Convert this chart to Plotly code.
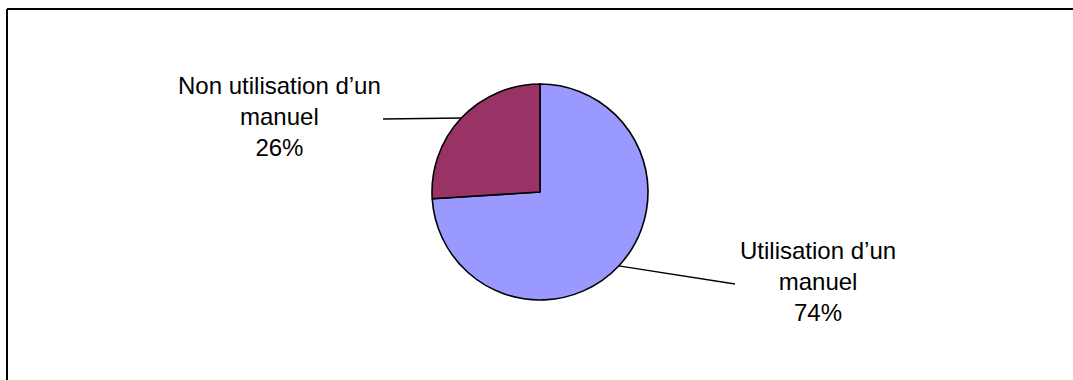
import math
import plotly.graph_objects as go

W, H = 1073, 380

labels = ["Utilisation d\u2019un<br>manuel", "Non utilisation d\u2019un<br>manuel"]
values = [74, 26]
colors = ["#9999FF", "#993366"]

# pie geometry in pixels
cx, cy, r = 540, 192, 108


def px(x):
    return x / W


def py(y):
    return 1 - y / H


fig = go.Figure()
fig.add_trace(go.Pie(
    labels=labels,
    values=values,
    sort=False,
    direction="clockwise",
    rotation=0,
    marker=dict(colors=colors, line=dict(color="black", width=1.6)),
    textinfo="none",
    hoverinfo="label+percent",
    showlegend=False,
    domain=dict(x=[px(cx - r), px(cx + r)], y=[py(cy + r), py(cy - r)]),
))

# label positions (text centre) and end of leader line, in pixels
label_pos = [(818, 281), (279, 116)]
line_end = [(735, 284), (383, 119)]

total = sum(values)
start = 0
for i, v in enumerate(values):
    mid = (start + v / 2) / total * 2 * math.pi
    start += v
    ex = cx + r * math.sin(mid)
    ey = cy - r * math.cos(mid)
    lx, ly = line_end[i]
    fig.add_shape(type="line", xref="paper", yref="paper",
                  x0=px(ex), y0=py(ey), x1=px(lx), y1=py(ly),
                  line=dict(color="black", width=1.4))
    fig.add_annotation(
        x=px(label_pos[i][0]), y=py(label_pos[i][1]), xref="paper", yref="paper",
        text=f"{labels[i]}<br>{round(v / total * 100)}%",
        showarrow=False, align="center", xanchor="center", yanchor="middle",
        font=dict(family="Arial, Liberation Sans, sans-serif", size=24, color="black"),
    )

# chart border: only top and left edges are inside the picture
fig.add_shape(type="line", xref="paper", yref="paper",
              x0=px(7), y0=py(9), x1=1.0, y1=py(9),
              line=dict(color="black", width=2))
fig.add_shape(type="line", xref="paper", yref="paper",
              x0=px(7), y0=py(9), x1=px(7), y1=0.0,
              line=dict(color="black", width=2))

fig.update_layout(
    width=W, height=H,
    margin=dict(l=0, r=0, t=0, b=0),
    paper_bgcolor="white", plot_bgcolor="white",
)
fig.write_html("out.html", config={"displayModeBar": False},
               post_script="document.body.style.margin='0';")
